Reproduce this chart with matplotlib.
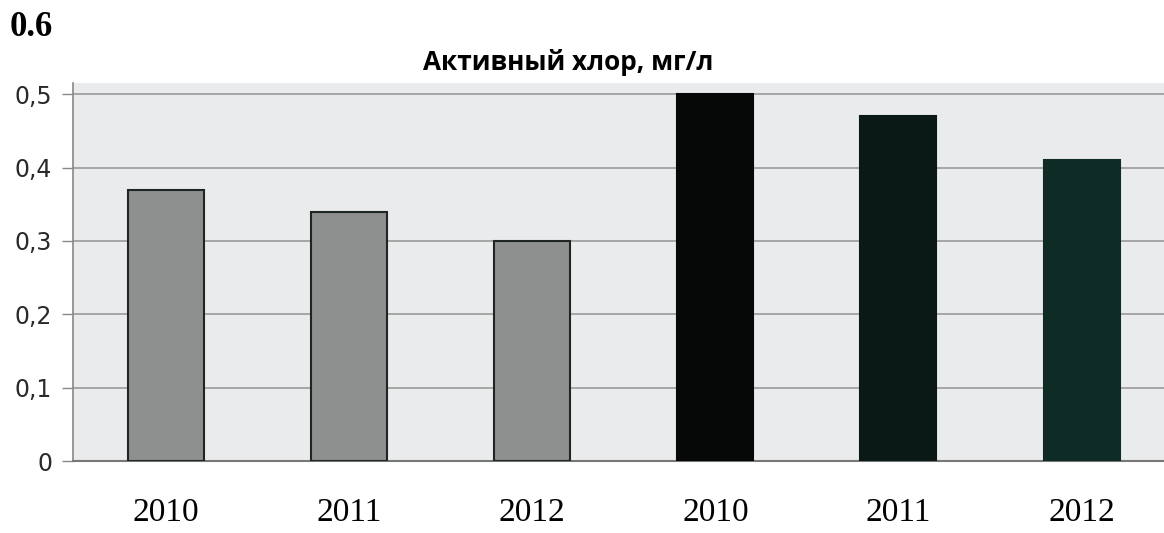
import matplotlib
matplotlib.use("Agg")
import matplotlib.pyplot as plt

years = ["2010", "2011", "2012", "2010", "2011", "2012"]
values = [0.37, 0.34, 0.30, 0.50, 0.47, 0.41]
bar_colors = ["#8d908f", "#8d908f", "#8d908f", "#050807", "#0a1915", "#0e2b25"]
edge_colors = ["#1e2624", "#1e2624", "#1e2624", "#050807", "#0a1915", "#0e2b25"]
yticks = [0, 0.1, 0.2, 0.3, 0.4, 0.5]
ytick_labels = ["0", "0,1", "0,2", "0,3", "0,4", "0,5"]
title = "Активный хлор, мг/л"
corner_label = "0.6"

fig = plt.figure(figsize=(11.64, 5.33), dpi=100)
ax = fig.add_axes([0.0627, 0.135, 0.9373, 0.709])
ax.set_facecolor("#eaebed")

x = list(range(len(values)))
ax.bar(x, values, width=0.415, color=bar_colors, edgecolor=edge_colors,
       linewidth=1.5, zorder=3)

ax.set_xlim(-0.508, 5.45)
ax.set_ylim(0, 0.515)
ax.set_yticks(yticks)
ax.set_yticklabels(ytick_labels, fontfamily="DejaVu Sans", fontsize=17, color="#2a2a2a")
ax.set_xticks(x)
ax.set_xticklabels(years, fontfamily="Liberation Serif", fontsize=24, color="black")
ax.tick_params(axis="x", length=0, pad=26)
ax.tick_params(axis="y", length=8, width=1, color="#888888", pad=7)

ax.grid(axis="y", color="#9a9a9a", linewidth=1.2, zorder=1)
for s in ["top", "right"]:
    ax.spines[s].set_visible(False)
ax.spines["left"].set_color("#888888")
ax.spines["left"].set_linewidth(1.2)
ax.spines["bottom"].set_color("#777777")
ax.spines["bottom"].set_linewidth(1.5)

fig.text(568 / 1164, 1 - 63 / 533, title, fontfamily="Open Sans", fontweight="bold",
         fontsize=18.8, ha="center", va="center", color="black")
fig.text(10 / 1164, 1 - 28 / 533, corner_label, fontfamily="Liberation Serif",
         fontweight="bold", fontsize=25, ha="left", va="center", color="black")

fig.savefig("out.png", dpi=100)
